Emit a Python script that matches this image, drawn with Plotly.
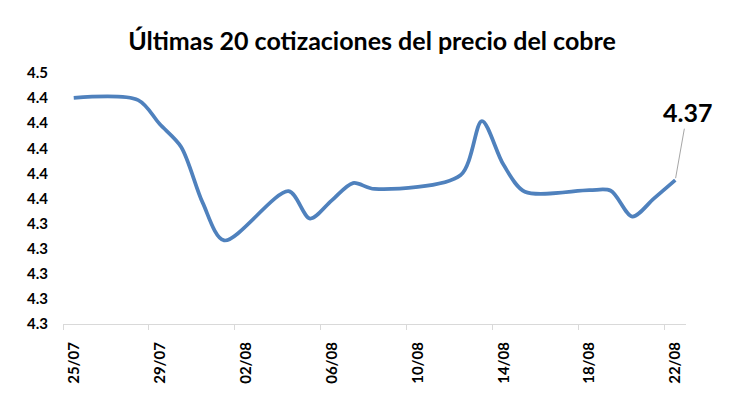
import plotly.graph_objects as go

# Data
dates = ["2025-07-25", "2025-07-28", "2025-07-29", "2025-07-30", "2025-07-31",
         "2025-08-01", "2025-08-04", "2025-08-05", "2025-08-06", "2025-08-07",
         "2025-08-08", "2025-08-12", "2025-08-13", "2025-08-14", "2025-08-15",
         "2025-08-18", "2025-08-19", "2025-08-20", "2025-08-21", "2025-08-22"]
prices = [4.4402, 4.4384, 4.4193, 4.4011, 4.3567,
          4.3266, 4.3658, 4.3440, 4.3583, 4.3723,
          4.3676, 4.3785, 4.4217, 4.3870, 4.3654,
          4.3666, 4.3662, 4.3456, 4.3599, 4.3746]

x_tick_dates = ["2025-07-25", "2025-07-29", "2025-08-02", "2025-08-06",
                "2025-08-10", "2025-08-14", "2025-08-18", "2025-08-22"]
x_tick_labels = ["25/07", "29/07", "02/08", "06/08", "10/08", "14/08", "18/08", "22/08"]

y_tick_vals = [4.26, 4.28, 4.30, 4.32, 4.34, 4.36, 4.38, 4.40, 4.42, 4.44, 4.46]
y_tick_labels = ["4.3", "4.3", "4.3", "4.3", "4.3", "4.4", "4.4", "4.4", "4.4", "4.4", "4.5"]

title_text = "Últimas 20 cotizaciones del precio del cobre"
last_label = "4.37"

# points centred within their day (Excel date-axis style)
x_points = [d + " 12:00" for d in dates]

# page body has an 8px margin, so the figure is 8px smaller than the window
W, H = 730, 389

fig = go.Figure()
fig.add_trace(go.Scatter(
    x=x_points, y=prices, mode="lines",
    line=dict(color="#4F81BD", width=3.75, shape="spline", smoothing=0.85),
    hoverinfo="skip", showlegend=False,
))

fig.add_annotation(
    x=x_points[-1], y=prices[-1], text="<b>" + last_label + "</b>",
    showarrow=True, arrowhead=0, arrowwidth=1, arrowcolor="#a6a6a6",
    ax=12, ay=-68, standoff=2,
    font=dict(family="Lato", size=25, color="black"),
)

fig.update_layout(
    width=W, height=H,
    paper_bgcolor="white", plot_bgcolor="white",
    margin=dict(l=55.3, r=51.5, t=64.7, b=72.7, pad=0),
    title=dict(text="<b>" + title_text + "</b>", x=(372 - 8) / W, xanchor="center",
               y=1 - (41 - 8) / H, yanchor="middle", yref="container",
               font=dict(family="Lato", size=25, color="black")),
    xaxis=dict(
        type="date", range=["2025-07-25", "2025-08-23"],
        tickvals=x_tick_dates, ticktext=x_tick_labels, tickangle=-90,
        ticklabelshift=11, ticklabelstandoff=6,
        showgrid=False, zeroline=False,
        showline=True, linecolor="#d9d9d9", linewidth=1,
        ticks="outside", ticklen=5, tickcolor="#d9d9d9",
        tickfont=dict(family="Lato", size=15, color="black", weight="bold"),
    ),
    yaxis=dict(
        range=[4.26, 4.46], tickvals=y_tick_vals, ticktext=y_tick_labels,
        showgrid=False, zeroline=False, showline=False,
        ticks="", ticklabelstandoff=14,
        tickfont=dict(family="Lato", size=15, color="black", weight="bold"),
    ),
)

fig.write_html("out.html")
